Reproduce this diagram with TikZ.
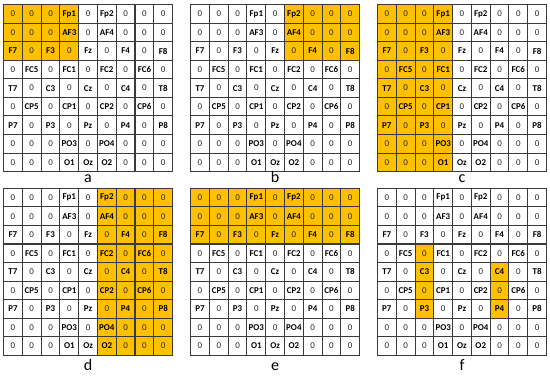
\documentclass[tikz,border=0pt]{standalone}
\usepackage{fontspec}
\setmainfont{Carlito}
\usepackage{etoolbox}
\definecolor{gold}{HTML}{FFC000}
\definecolor{gridgray}{HTML}{3A3A3A}

\tikzset{
  gridline/.style={line width=0.8pt,draw=gridgray},
  zerotext/.style={font=\fontsize{6.7}{8}\selectfont,text=black!85,inner sep=0pt},
  chantext/.style={font=\fontsize{6.7}{8}\selectfont\bfseries,inner sep=0pt},
  panellabel/.style={font=\fontsize{12}{14}\selectfont,anchor=base,inner sep=0pt}
}

\newcommand{\goldcell}[2]{%
  \fill[gold] (#1-1,#2-1) rectangle (#1,#2);}
\newcommand{\eeggrid}[1]{%
  \foreach \row [count=\r] in {%
    {0,0,0,Fp1,0,Fp2,0,0,0},%
    {0,0,0,AF3,0,AF4,0,0,0},%
    {F7,0,F3,0,Fz,0,F4,0,F8},%
    {0,FC5,0,FC1,0,FC2,0,FC6,0},%
    {T7,0,C3,0,Cz,0,C4,0,T8},%
    {0,CP5,0,CP1,0,CP2,0,CP6,0},%
    {P7,0,P3,0,Pz,0,P4,0,P8},%
    {0,0,0,PO3,0,PO4,0,0,0},%
    {0,0,0,O1,Oz,O2,0,0,0}}{
    \foreach \t [count=\c] in \row {
      \ifdefstring{\t}{0}%
        {\node[zerotext] (#1-\c-\r) at (\c-0.5,\r-0.5) {\t};}%
        {\node[chantext] (#1-\c-\r) at (\c-0.5,\r-0.5) {\t};}}}
  \foreach \g in {1,...,8}{
    \draw[gridline] (\g,0) -- (\g,9);
    \draw[gridline] (0,\g) -- (9,\g);}
  \draw[gridline] (0,0) rectangle (9,9);}

\begin{document}
\begin{tikzpicture}[x=14.08pt,y=-13.91pt]
    \useasboundingbox (0,0) rectangle (29.287,20.323);
    % a: left frontal
    \begin{scope}[shift={(0.19,0.25)}]
      \foreach \c in {1,...,4} \foreach \r in {1,...,3} {\goldcell{\c}{\r}}
      \eeggrid{a}
    \end{scope}
    % b: right frontal
    \begin{scope}[shift={(10.15,0.25)}]
      \foreach \c in {6,...,9} \foreach \r in {1,...,3} {\goldcell{\c}{\r}}
      \eeggrid{b}
    \end{scope}
    % c: left hemisphere
    \begin{scope}[shift={(20.1,0.25)}]
      \foreach \c in {1,...,4} \foreach \r in {1,...,9} {\goldcell{\c}{\r}}
      \eeggrid{c}
    \end{scope}
    % d: right hemisphere
    \begin{scope}[shift={(0.19,10.15)}]
      \foreach \c in {6,...,9} \foreach \r in {1,...,9} {\goldcell{\c}{\r}}
      \eeggrid{d}
    \end{scope}
    % e: whole frontal band
    \begin{scope}[shift={(10.15,10.15)}]
      \foreach \c in {1,...,9} \foreach \r in {1,...,3} {\goldcell{\c}{\r}}
      \eeggrid{e}
    \end{scope}
    % f: central-parietal strips
    \begin{scope}[shift={(20.1,10.15)}]
      \foreach \c/\r in {3/4,3/5,3/6,3/7,7/5,7/6,7/7} {\goldcell{\c}{\r}}
      \eeggrid{f}
    \end{scope}
    \foreach \n/\x/\y in {a/4.69/9.85,b/14.65/9.85,c/24.6/9.85,%
      d/4.69/19.95,e/14.65/19.95,f/24.6/19.95}
      \node[panellabel] (lbl-\n) at (\x,\y) {\n};
  \end{tikzpicture}
\end{document}
